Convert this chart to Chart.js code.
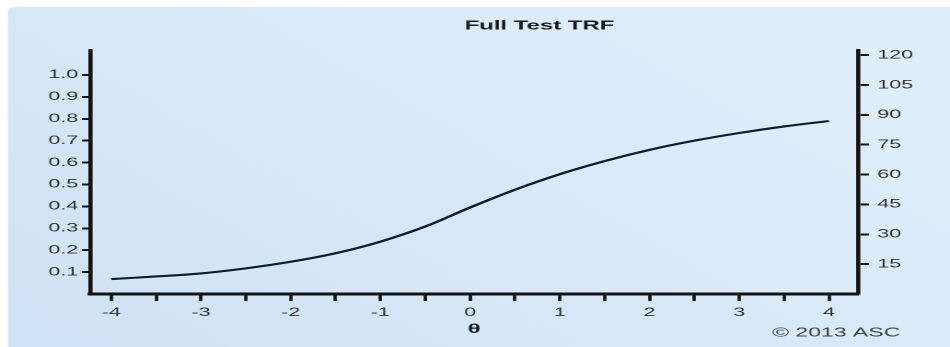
<!DOCTYPE html>
<html><head><meta charset="utf-8">
<script src="https://cdn.jsdelivr.net/npm/chart.js@4/dist/chart.umd.min.js"></script>
<style>
html,body{margin:0;padding:0;background:#fff;overflow:hidden}
#c{display:block;width:950px !important;height:347px !important}
</style></head><body>
<canvas id="c" width="516" height="347"></canvas>
<script>
// ---- data ----
const thetaValues = [-4, -3.5, -3, -2.5, -2, -1.5, -1, -0.5, 0, 0.5, 1, 1.5, 2, 2.5, 3, 3.5, 4];
const trfValues   = [0.068, 0.080, 0.094, 0.117, 0.147, 0.186, 0.239, 0.308, 0.395, 0.476, 0.547, 0.607, 0.658, 0.700, 0.735, 0.765, 0.790];
const xTickValues = [-4, -3.5, -3, -2.5, -2, -1.5, -1, -0.5, 0, 0.5, 1, 1.5, 2, 2.5, 3, 3.5, 4];
const leftTickValues  = [0.1, 0.2, 0.3, 0.4, 0.5, 0.6, 0.7, 0.8, 0.9, 1.0];
const rightTickValues = [15, 30, 45, 60, 75, 90, 105, 120];
const chartTitle  = "Full Test TRF";
const xAxisTitle  = "θ";
const creditText  = "© 2013 ASC";

const FONT = "'Liberation Sans', Arial, sans-serif";
const AXIS = '#121212';
const LABEL = '#333333';

const decorPlugin = {
  id: 'decor',
  beforeDraw(chart) {
    const ctx = chart.ctx, W = chart.width, H = chart.height;
    ctx.save();
    ctx.fillStyle = '#ffffff';
    ctx.fillRect(0, 0, W, H);
    const g = ctx.createLinearGradient(0, H, W * 0.7, 0);
    g.addColorStop(0, '#cfe3f6');
    g.addColorStop(0.5, '#d6e8f8');
    g.addColorStop(1, '#dfeefb');
    ctx.fillStyle = g;
    const x0 = 4.3, y0 = 7, r = 5;
    ctx.beginPath();
    ctx.moveTo(x0 + r, y0);
    ctx.lineTo(W, y0);
    ctx.lineTo(W, H);
    ctx.lineTo(x0, H);
    ctx.lineTo(x0, y0 + r);
    ctx.quadraticCurveTo(x0, y0, x0 + r, y0);
    ctx.fill();
    ctx.restore();
  },
  afterDraw(chart) {
    const ctx = chart.ctx;
    ctx.save();
    ctx.fillStyle = '#1a1a1a';
    ctx.font = "bold 13px " + FONT;
    ctx.textAlign = 'center';
    ctx.textBaseline = 'middle';
    ctx.fillText(chartTitle, 293, 26);
    ctx.fillStyle = '#404040';
    ctx.font = "12.5px " + FONT;
    ctx.textAlign = 'right';
    ctx.fillText(creditText, 489, 333);
    ctx.restore();
  }
};

new Chart(document.getElementById('c'), {
  type: 'line',
  data: {
    datasets: [{
      data: thetaValues.map((t, i) => ({ x: t, y: trfValues[i] })),
      borderColor: '#0f1a2b',
      borderWidth: 2.1,
      pointRadius: 0,
      cubicInterpolationMode: 'monotone',
      fill: false,
      yAxisID: 'y'
    }]
  },
  options: {
    responsive: false,
    devicePixelRatio: 2,
    animation: false,
    layout: { padding: { top: 50, left: 0, right: 0, bottom: 0 } },
    plugins: { legend: { display: false }, title: { display: false }, tooltip: { enabled: false } },
    scales: {
      x: {
        type: 'linear',
        position: 'bottom',
        min: -4.234,
        max: 4.323,
        afterBuildTicks(s) { s.ticks = xTickValues.map(v => ({ value: v })); },
        afterFit(s) { s.height = 53; },
        grid: { display: true, drawOnChartArea: false, drawTicks: true, tickLength: 7, tickColor: AXIS, tickWidth: 1.8, color: AXIS },
        border: { display: true, color: AXIS, width: 3 },
        ticks: {
          autoSkip: false, maxRotation: 0, padding: 5,
          color: LABEL, font: { family: FONT, size: 11.7 },
          callback: v => Number.isInteger(v) ? String(v) : ''
        },
        title: { display: true, text: xAxisTitle, color: '#1a1a1a', font: { family: FONT, size: 13, weight: 'bold' }, padding: { top: 0, bottom: 10 } }
      },
      y: {
        type: 'linear',
        position: 'left',
        min: 0,
        max: 1.114,
        afterBuildTicks(s) { s.ticks = leftTickValues.map(v => ({ value: v })); },
        afterFit(s) { s.width = 49; },
        grid: { display: true, drawOnChartArea: false, drawTicks: true, tickLength: 4.5, tickColor: AXIS, tickWidth: 2, color: AXIS },
        border: { display: true, color: AXIS, width: 2.3 },
        ticks: {
          autoSkip: false, padding: 2,
          color: LABEL, font: { family: FONT, size: 11.7 },
          callback: v => v.toFixed(1)
        }
      },
      y2: {
        type: 'linear',
        position: 'right',
        min: 0,
        max: 122.6,
        afterBuildTicks(s) { s.ticks = rightTickValues.map(v => ({ value: v })); },
        afterFit(s) { s.width = 50; },
        grid: { display: true, drawOnChartArea: false, drawTicks: true, tickLength: 6, tickColor: AXIS, tickWidth: 2, color: AXIS },
        border: { display: true, color: AXIS, width: 2.3 },
        ticks: {
          autoSkip: false, padding: 4.5,
          color: LABEL, font: { family: FONT, size: 11.7 },
          callback: v => String(v)
        }
      }
    }
  },
  plugins: [decorPlugin]
});
</script>
</body></html>
